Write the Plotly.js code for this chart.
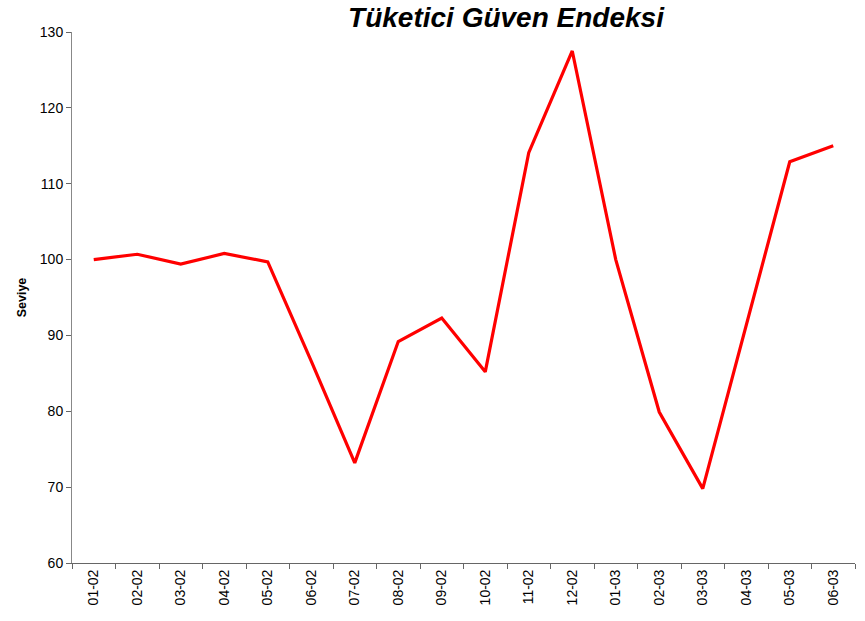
<!DOCTYPE html>
<html>
<head>
<meta charset="utf-8">
<script src="https://cdn.plot.ly/plotly-3.0.1.min.js"></script>
<style>html,body{margin:0;padding:0;background:#fff;}#chart{width:865px;height:621px;}</style>
</head>
<body>
<div id="chart"></div>
<script>
const categories = ["01-02","02-02","03-02","04-02","05-02","06-02","07-02","08-02","09-02","10-02","11-02","12-02","01-03","02-03","03-03","04-03","05-03","06-03"];
const values = [100.0,100.7,99.4,100.8,99.7,86.6,73.2,89.2,92.3,85.2,114.1,127.5,100.0,79.9,69.8,91.4,112.9,115.0];
const yTicks = [60,70,80,90,100,110,120,130];

const trace = {
  x: categories,
  y: values,
  type: "scatter",
  mode: "lines",
  line: {color: "#FF0000", width: 3.2},
  hoverinfo: "skip"
};

const layout = {
  width: 865,
  height: 621,
  margin: {l: 72, r: 10, t: 32, b: 58},
  paper_bgcolor: "#ffffff",
  plot_bgcolor: "#ffffff",
  showlegend: false,
  title: {
    text: "<b><i>Tüketici Güven Endeksi</i></b>",
    font: {family: "Liberation Sans, Arial, sans-serif", size: 28, color: "#000"},
    x: 0.585, xref: "container", xanchor: "center",
    y: 0.972, yref: "container", yanchor: "middle"
  },
  xaxis: {
    type: "category",
    range: [-0.5, 17.5],
    tickson: "boundaries",
    ticks: "outside",
    ticklen: 5,
    tickcolor: "#666",
    showline: true,
    linecolor: "#666",
    linewidth: 1,
    showgrid: false,
    zeroline: false,
    tickangle: -90,
    tickfont: {family: "Liberation Sans, Arial, sans-serif", size: 14, color: "#000"}
  },
  yaxis: {
    range: [60, 130],
    tickvals: yTicks,
    ticktext: yTicks.map(String),
    ticks: "outside",
    ticklen: 5,
    tickcolor: "#666",
    showline: true,
    linecolor: "#888",
    linewidth: 1,
    showgrid: false,
    zeroline: false,
    tickfont: {family: "Liberation Sans, Arial, sans-serif", size: 14, color: "#000"},
    title: {
      text: "<b>Seviye</b>",
      font: {family: "Liberation Sans, Arial, sans-serif", size: 12.5, color: "#000"},
      standoff: 10
    }
  }
};

Plotly.newPlot("chart", [trace], layout, {displayModeBar: false, staticPlot: true});
</script>
</body>
</html>
